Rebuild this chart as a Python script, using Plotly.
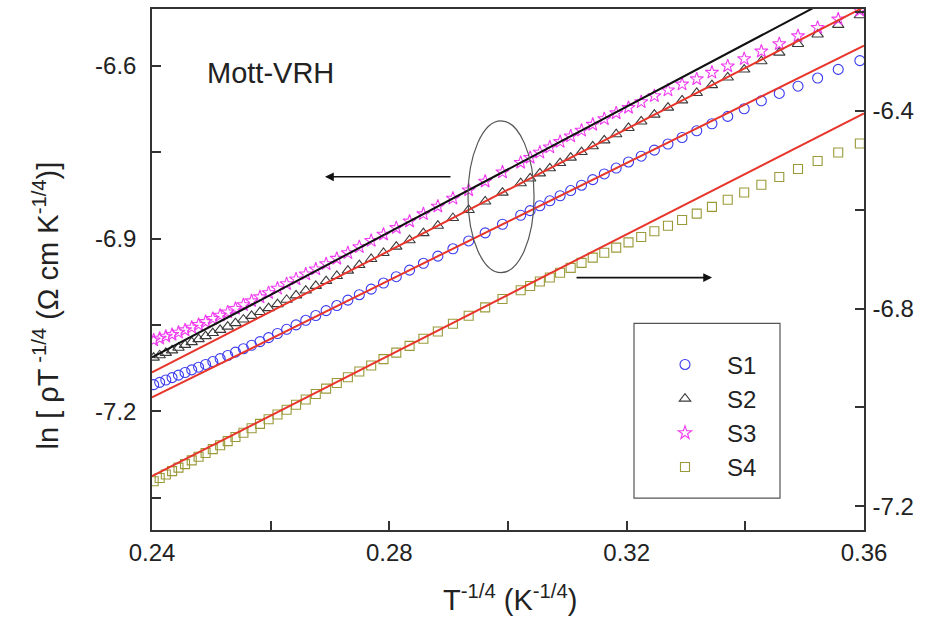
import plotly.graph_objects as go

# Temperatures (K) of the measured points; the x axis is T^-1/4
T_K = [60, 62.5, 65, 67.5, 70, 72.5, 75, 77.5, 80, 82.5, 85, 87.5, 90, 92.5, 95, 97.5,
       100, 102.5, 105, 107.5, 110, 112.5, 115, 117.5, 120, 125, 130, 135, 140, 145,
       150, 155, 160, 165, 170, 175, 180, 185, 190, 195, 200, 205, 210, 215, 220, 225,
       230, 235, 240, 245, 250, 255, 260, 265, 270, 275, 280, 285, 290, 295, 300]

# ln[rho T^-1/4] values (left axis: S1, S2, S3; right axis: S4)
S1 = [-6.5907, -6.6059, -6.6209, -6.6351, -6.6477, -6.6605, -6.6743, -6.6876, -6.7003, -6.7125,
      -6.7242, -6.7355, -6.7462, -6.7567, -6.7667, -6.7773, -6.7875, -6.7974, -6.8071, -6.8164,
      -6.8254, -6.8342, -6.8428, -6.8512, -6.8593, -6.8749, -6.8898, -6.9039, -6.9175, -6.9303,
      -6.9427, -6.9546, -6.9660, -6.9770, -6.9876, -6.9973, -7.0067, -7.0161, -7.0249, -7.0334,
      -7.0417, -7.0497, -7.0574, -7.0647, -7.0718, -7.0787, -7.0852, -7.0911, -7.0971, -7.1029,
      -7.1084, -7.1134, -7.1184, -7.1232, -7.1279, -7.1324, -7.1370, -7.1413, -7.1454, -7.1495,
      -7.1535]
S2 = [-6.5118, -6.5285, -6.5452, -6.5617, -6.5767, -6.5918, -6.6062, -6.6200, -6.6332, -6.6468,
      -6.6598, -6.6724, -6.6845, -6.6963, -6.7076, -6.7186, -6.7292, -6.7395, -6.7495, -6.7592,
      -6.7686, -6.7777, -6.7866, -6.7953, -6.8037, -6.8199, -6.8354, -6.8501, -6.8641, -6.8775,
      -6.8904, -6.9027, -6.9137, -6.9248, -6.9353, -6.9458, -6.9554, -6.9648, -6.9736, -6.9820,
      -6.9901, -6.9984, -7.0061, -7.0136, -7.0206, -7.0274, -7.0340, -7.0404, -7.0466, -7.0527,
      -7.0583, -7.0639, -7.0692, -7.0745, -7.0796, -7.0844, -7.0893, -7.0939, -7.0983, -7.1025,
      -7.1065]
S3 = [-6.5032, -6.5188, -6.5333, -6.5479, -6.5616, -6.5745, -6.5877, -6.6002, -6.6113, -6.6227,
      -6.6317, -6.6421, -6.6520, -6.6624, -6.6723, -6.6818, -6.6919, -6.7017, -6.7120, -6.7219,
      -6.7316, -6.7410, -6.7502, -6.7591, -6.7678, -6.7845, -6.8004, -6.8156, -6.8301, -6.8438,
      -6.8571, -6.8698, -6.8811, -6.8925, -6.9035, -6.9143, -6.9248, -6.9345, -6.9439, -6.9530,
      -6.9617, -6.9702, -6.9785, -6.9864, -6.9941, -7.0013, -7.0082, -7.0149, -7.0214, -7.0276,
      -7.0333, -7.0389, -7.0443, -7.0493, -7.0542, -7.0587, -7.0629, -7.0666, -7.0697, -7.0732,
      -7.0762]
S4 = [-6.4661, -6.4844, -6.5016, -6.5178, -6.5340, -6.5494, -6.5651, -6.5800, -6.5944, -6.6079,
      -6.6210, -6.6326, -6.6435, -6.6551, -6.6661, -6.6768, -6.6870, -6.6970, -6.7075, -6.7177,
      -6.7276, -6.7372, -6.7453, -6.7544, -6.7631, -6.7808, -6.7977, -6.8147, -6.8309, -6.8464,
      -6.8612, -6.8756, -6.8892, -6.9024, -6.9151, -6.9273, -6.9391, -6.9505, -6.9620, -6.9730,
      -6.9839, -6.9945, -7.0046, -7.0144, -7.0240, -7.0333, -7.0423, -7.0512, -7.0598, -7.0682,
      -7.0764, -7.0843, -7.0922, -7.0998, -7.1072, -7.1148, -7.1219, -7.1289, -7.1358, -7.1427,
      -7.1493]

# Linear Mott-VRH fits (end points at x = 0.24 and 0.36)
fit_x = [0.24, 0.36]
fit_S1 = [-7.1757, -6.5646]
fit_S2 = [-7.1323, -6.4977]
fit_S3 = [-7.1063, -6.4526]
fit_S4 = [-7.1389, -6.4054]

x_ticks = [0.24, 0.28, 0.32, 0.36]
yl_ticks = [-7.2, -6.9, -6.6]
yr_ticks = [-7.2, -6.8, -6.4]

x = [t ** -0.25 for t in T_K]

FONT = "Liberation Sans, Arial, sans-serif"
AX = "#333333"
TXT = "#222222"
RED = "#e8352b"

fig = go.Figure()

fig.add_trace(go.Scatter(x=x, y=S1, mode="markers", name="S1",
                         marker=dict(symbol="circle-open", size=10, color="#3b3bf0", line=dict(width=1.1))))
fig.add_trace(go.Scatter(x=x, y=S2, mode="markers", name="S2",
                         marker=dict(symbol="triangle-up-open", size=10, color="#3a3a3a", line=dict(width=1.1))))
fig.add_trace(go.Scatter(x=x, y=S3, mode="markers", name="S3",
                         marker=dict(symbol="star-open", size=10, color="#f03cf0", line=dict(width=1.1))))
fig.add_trace(go.Scatter(x=x, y=S4, mode="markers", name="S4", yaxis="y2",
                         marker=dict(symbol="square-open", size=9, color="#9a9a3a", line=dict(width=1.1))))

fig.add_trace(go.Scatter(x=fit_x, y=fit_S1, mode="lines", showlegend=False, line=dict(color=RED, width=2)))
fig.add_trace(go.Scatter(x=fit_x, y=fit_S2, mode="lines", showlegend=False, line=dict(color=RED, width=2)))
fig.add_trace(go.Scatter(x=fit_x, y=fit_S3, mode="lines", showlegend=False, line=dict(color="#111111", width=2)))
fig.add_trace(go.Scatter(x=fit_x, y=fit_S4, mode="lines", showlegend=False, yaxis="y2",
                         line=dict(color=RED, width=2)))

axis_common = dict(showline=True, linecolor=AX, linewidth=1.5, ticks="inside", ticklen=9,
                   tickcolor=AX, tickwidth=1.5, showgrid=False, zeroline=False,
                   tickfont=dict(family=FONT, size=24, color=TXT))
minor_common = dict(ticks="inside", ticklen=9, tickcolor=AX, tickwidth=1.5)

fig.update_layout(
    width=927, height=626,
    margin=dict(l=152, r=63, t=7, b=96),
    paper_bgcolor="white", plot_bgcolor="white",
    showlegend=True,
    xaxis=dict(range=[0.24, 0.36], tickvals=x_ticks, ticktext=[f"{v:.2f}" for v in x_ticks],
               mirror=True, ticklabelstandoff=0,
               minor=dict(dtick=0.02, tick0=0.24, **minor_common),
               **axis_common),
    yaxis=dict(range=[-7.406, -6.501], tickvals=yl_ticks, ticktext=[f"{v:.1f}" for v in yl_ticks],
               ticklabelstandoff=9,
               minor=dict(dtick=0.15, tick0=-6.6, **minor_common),
               **axis_common),
    yaxis2=dict(range=[-7.248, -6.194], overlaying="y", side="right",
                tickvals=yr_ticks, ticktext=[f"{v:.1f}" for v in yr_ticks], ticklabelstandoff=2,
                minor=dict(dtick=0.2, tick0=-6.4, **minor_common),
                **axis_common),
    legend=dict(x=(643 - 152) / 712, y=(530 - 342) / 522, xanchor="left", yanchor="top",
                bgcolor="rgba(0,0,0,0)", borderwidth=0, tracegroupgap=0, itemwidth=74,
                font=dict(family=FONT, size=24, color=TXT)),
)

# legend frame
fig.add_shape(type="rect", xref="paper", yref="paper",
              x0=(634 - 152) / 712, x1=(780 - 152) / 712,
              y0=(530 - 498) / 522, y1=(530 - 323) / 522,
              line=dict(color="#555555", width=1.2))

# ellipse grouping the left-axis curves
fig.add_shape(type="circle", xref="x", yref="y",
              x0=0.29326, x1=0.30439, y0=-6.9589, y1=-6.6954,
              line=dict(color="#555555", width=1.2))

# arrows
fig.add_annotation(x=0.26916, y=-6.7925, ax=0.29056, ay=-6.7925, xref="x", yref="y",
                   axref="x", ayref="y", showarrow=True, arrowhead=2, arrowsize=1.1,
                   arrowwidth=1.6, arrowcolor="#111111", text="")
fig.add_annotation(x=0.33439, y=-6.9676, ax=0.31130, ay=-6.9676, xref="x", yref="y",
                   axref="x", ayref="y", showarrow=True, arrowhead=2, arrowsize=1.1,
                   arrowwidth=1.6, arrowcolor="#111111", text="")

# text labels
fig.add_annotation(x=(205 - 152) / 712, y=(530 - 72) / 522, xref="paper", yref="paper",
                   xanchor="left", yanchor="middle", showarrow=False, text="Mott-VRH",
                   font=dict(family=FONT, size=29, color=TXT))
fig.add_annotation(x=(510 - 152) / 712, y=(530 - 598) / 522, xref="paper", yref="paper",
                   xanchor="center", yanchor="middle", showarrow=False,
                   text="T<sup>-1/4</sup> (K<sup>-1/4</sup>)",
                   font=dict(family=FONT, size=29, color=TXT))
fig.add_annotation(x=(46 - 152) / 712, y=(530 - 305) / 522, xref="paper", yref="paper",
                   xanchor="center", yanchor="middle", showarrow=False, textangle=-90,
                   text="ln [ ρT<sup> -1/4</sup> (Ω cm K<sup>-1/4</sup>)]",
                   font=dict(family=FONT, size=29, color=TXT))

fig.write_html("out.html")
